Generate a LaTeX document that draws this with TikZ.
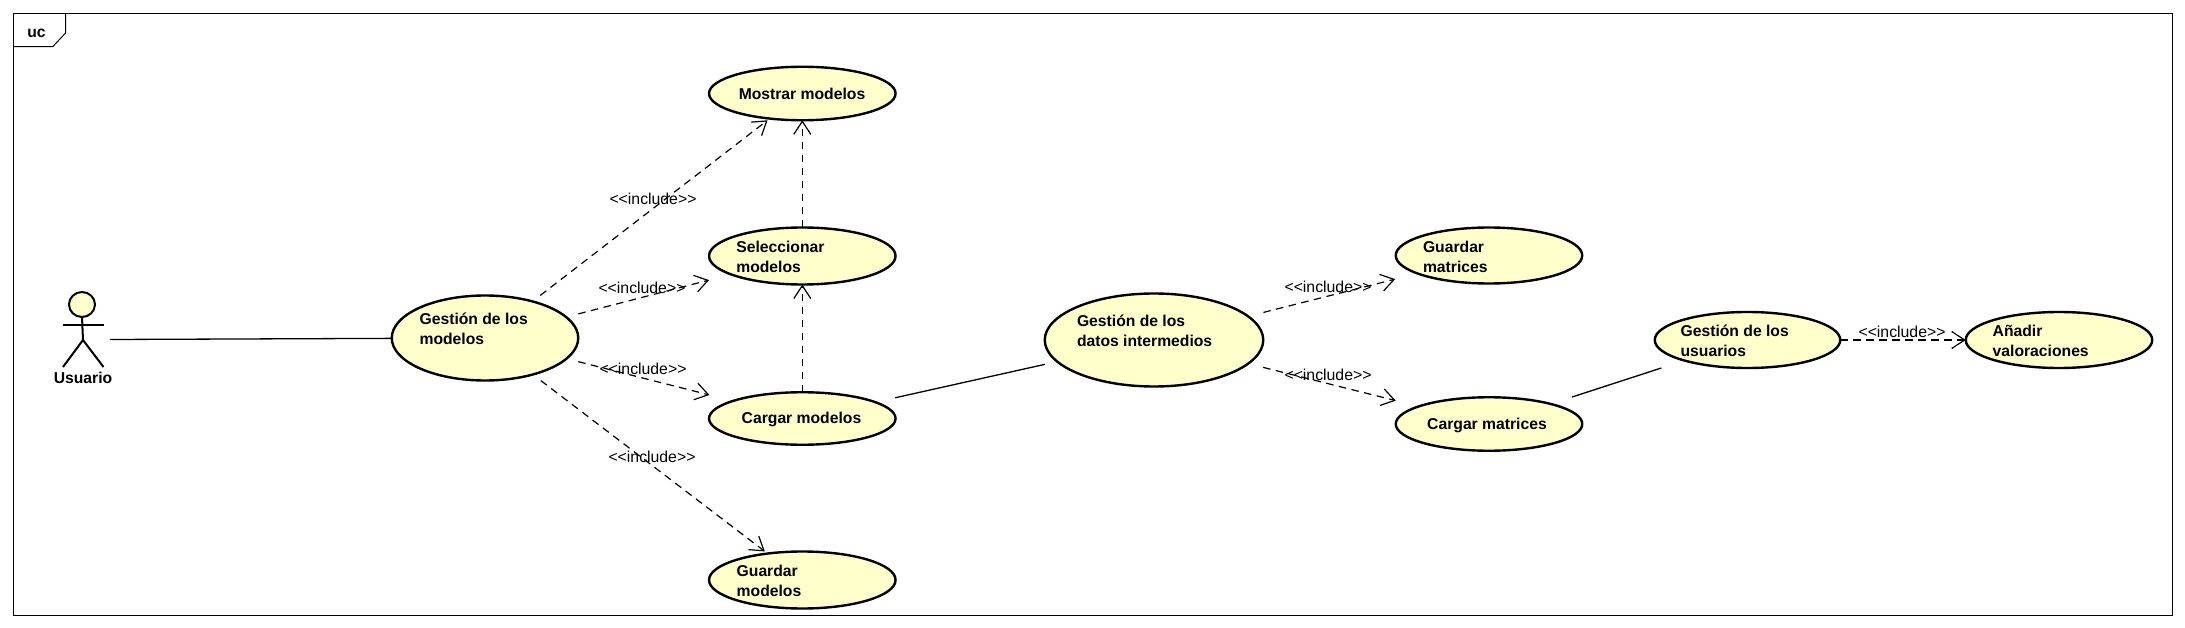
\documentclass[tikz,border=0pt]{standalone}
\usepackage{fontspec}
\setmainfont{Liberation Sans}
\usetikzlibrary{shapes.geometric,arrows.meta}
\tikzset{
  usecase/.style={ellipse,draw=black,line width=2.4pt,fill=ucfill,inner sep=0pt,outer sep=0pt},
  uctext/.style={font=\fontsize{15.7}{20}\selectfont\bfseries,align=left,inner sep=0pt,outer sep=0pt,text=black},
  inclabel/.style={font=\fontsize{15.8}{20}\selectfont,inner sep=0pt,text=black},
  assoc/.style={draw=black,line width=1.3pt},
  dep/.style={draw=black,line width=1.2pt,dash pattern=on 7.5pt off 5.5pt,
    -{Straight Barb[length=13pt,width=17pt,line width=1.2pt]}},
  stick/.style={draw=black,line width=2pt}
}
\definecolor{ucfill}{HTML}{FFFFCC}
\newcommand{\inc}{<{}<include>{}>}
\begin{document}
\begin{tikzpicture}[x=1pt,y=-1pt]
\useasboundingbox (0,0) rectangle (2185,628);
\fill[white] (0,0) rectangle (2185,628);
% frame
\coordinate (fa) at (13.5,14);
\coordinate (fb) at (2172,615);
\draw[line width=1pt] (fa) rectangle (fb);
\draw[line width=1pt] (65.6,14) -- (65.6,33) -- (52.7,46.7) -- (13.5,46.7);
\node[uctext] (frametitle) at (36.5,33) {uc};
% use cases
\node[usecase,minimum width=186.5pt,minimum height=85pt] (gm) at (485,338) {};
\node[usecase,minimum width=186.5pt,minimum height=53.5pt] (mm) at (802.3,93.5) {};
\node[usecase,minimum width=186.5pt,minimum height=57pt] (sm) at (802.3,256) {};
\node[usecase,minimum width=186.5pt,minimum height=52.5pt] (cm) at (802.3,418.5) {};
\node[usecase,minimum width=186.5pt,minimum height=57pt] (sv) at (802.3,580) {};
\node[usecase,minimum width=218.5pt,minimum height=93pt] (gd) at (1154,340) {};
\node[usecase,minimum width=186.5pt,minimum height=56pt] (gx) at (1489,255.5) {};
\node[usecase,minimum width=186.5pt,minimum height=53.5pt] (cx) at (1489,424) {};
\node[usecase,minimum width=185.5pt,minimum height=56pt] (gu) at (1747.5,340) {};
\node[usecase,minimum width=186.5pt,minimum height=56pt] (av) at (2059,340) {};
% use case texts
\node[uctext,anchor=west] (t1) at (419.6,329) {Gestión de los\\modelos};
\node[uctext] (t2) at (802,94) {Mostrar modelos};
\node[uctext,anchor=west] (t3) at (736.3,257) {Seleccionar\\modelos};
\node[uctext] (t4) at (801.5,419) {Cargar modelos};
\node[uctext,anchor=west] (t5) at (736.7,581) {Guardar\\modelos};
\node[uctext,anchor=west] (t6) at (1077,331) {Gestión de los\\datos intermedios};
\node[uctext,anchor=west] (t7) at (1423,257) {Guardar\\matrices};
\node[uctext] (t8) at (1487,425) {Cargar matrices};
\node[uctext,anchor=west] (t9) at (1680.6,341) {Gestión de los\\usuarios};
\node[uctext,anchor=west] (t10) at (1992.7,341) {Añadir\\valoraciones};
% actor
\node[ellipse,draw=black,line width=2pt,fill=ucfill,minimum width=26pt,minimum height=25pt,inner sep=0pt,outer sep=0pt] (head) at (82,304.5) {};
\coordinate (hip) at (83,340);
\coordinate (armL) at (63,325);
\coordinate (armR) at (103.6,325);
\coordinate (legL) at (63,367);
\coordinate (legR) at (103.5,367);
\draw[stick] (head.south) -- (hip);
\draw[stick] (armL) -- (armR);
\draw[stick] (legL) -- (hip) -- (legR);
\node[uctext] (actorname) at (83,378) {Usuario};
\coordinate (actorend) at (110,339.5);
% solid connectors
\draw[assoc] (actorend) -- (gm);
\draw[assoc,shorten <=20.2pt,shorten >=12.7pt] (cm) -- (gd);
\draw[assoc,shorten <=22.2pt,shorten >=24.2pt] (cx) -- (gu);
% dependencies
\draw[dep,shorten <=9.8pt,shorten >=2.8pt] (gm) -- (mm);
\draw[dep,shorten <=12.6pt,shorten >=22.7pt] (gm) -- (sm);
\draw[dep,shorten <=12.2pt,shorten >=24.3pt] (gm) -- (cm);
\draw[dep,shorten <=10.1pt,shorten >=3.5pt] (gm) -- (sv);
\draw[dep] (sm) -- (mm);
\draw[dep] (cm) -- (sm);
\draw[dep,shorten <=15.9pt,shorten >=23.1pt] (gd) -- (gx);
\draw[dep,shorten <=15.5pt,shorten >=23.7pt] (gd) -- (cx);
\draw[dep] (gu) -- (av);
% labels
\node[inclabel] (l1) at (653,199) {\inc};
\node[inclabel] (l2) at (642,288) {\inc};
\node[inclabel] (l3) at (643,369) {\inc};
\node[inclabel] (l4) at (652,457) {\inc};
\node[inclabel] (l5) at (1328,287) {\inc};
\node[inclabel] (l6) at (1328,375) {\inc};
\node[inclabel] (l7) at (1902,331.7) {\inc};
\end{tikzpicture}
\end{document}
